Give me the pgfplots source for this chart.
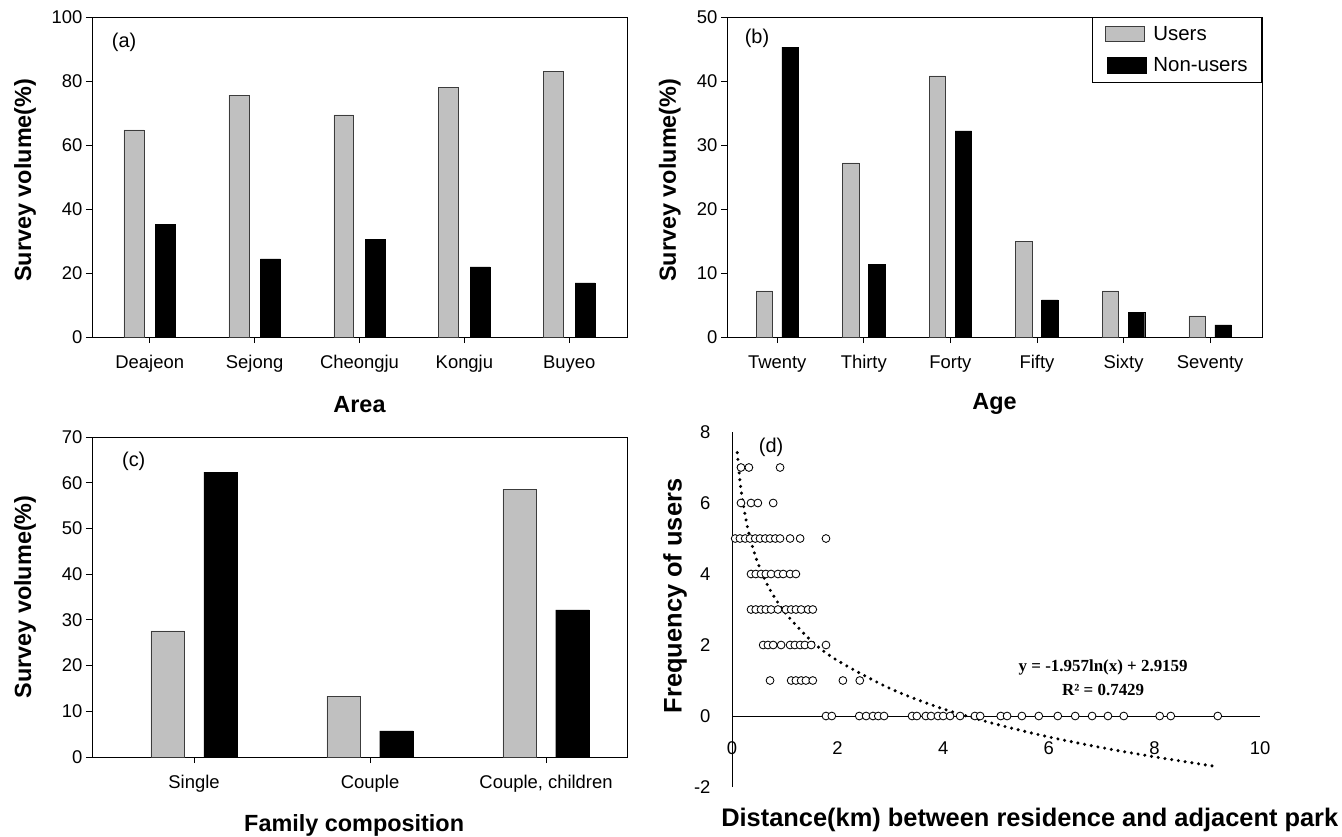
\documentclass[border=0pt]{standalone}
\usepackage{fontspec}
\setmainfont{Liberation Sans}
\newfontfamily\serifbf{Liberation Serif}
\usepackage{pgfplots}
\pgfplotsset{compat=1.18}
\definecolor{ugray}{RGB}{192,192,192}
\definecolor{uedge}{RGB}{60,60,60}

\tikzset{panlab/.style={font=\fontsize{20}{24}\selectfont}}
\pgfplotsset{
  barax/.style={scale only axis, width=535bp, height=320bp, anchor=south west,
    axis line style={line width=0.8pt, black},
    tick style={black, line width=0.8pt},
    tick label style={font=\fontsize{18.5}{21}\selectfont},
    xticklabel style={text height=1.6ex, text depth=0.5ex, yshift=-14bp},
    /pgf/number format/assume math mode=true,
    ytick pos=left, xtick pos=bottom, tick align=outside, major tick length=6bp,
    label style={font=\fontsize{23.5}{27}\selectfont\bfseries},
    ymin=0, clip=false,
  },
  users/.style={ybar, bar width=0.19, bar shift=-0.15, fill=ugray, draw=uedge, line width=0.6pt,
    legend image code/.code={\draw[fill=ugray, draw=uedge, line width=0.8pt] (0bp,-7bp) rectangle (39bp,8bp); \path (46bp,0bp);}},
  nonusers/.style={ybar, bar width=0.19, bar shift=0.15, fill=black, draw=black,
    legend image code/.code={\draw[fill=black, draw=black] (2bp,-8bp) rectangle (41bp,8bp); \path (46bp,0bp);}},
}

\pgfplotstableread{
x users non
0 64.7 35.3
1 75.6 24.4
2 69.4 30.6
3 78.1 21.9
4 83.1 16.9
}\areadata

\pgfplotstableread{
x users non
0 7.2 45.3
1 27.2 11.3
2 40.8 32.2
3 15.0 5.8
4 7.2 3.9
5 3.3 1.9
}\agedata

\pgfplotstableread{
x users non
0 27.6 62.3
1 13.3 5.7
2 58.6 32.2
}\famdata

\pgfplotstableread{
x y
0.17 7
0.32 7
0.91 7
0.17 6
0.36 6
0.49 6
0.78 6
0.06 5
0.15 5
0.25 5
0.34 5
0.44 5
0.53 5
0.63 5
0.72 5
0.82 5
0.91 5
1.10 5
1.29 5
1.78 5
0.36 4
0.45 4
0.55 4
0.64 4
0.74 4
0.87 4
0.97 4
1.10 4
1.21 4
0.36 3
0.45 3
0.55 3
0.64 3
0.74 3
0.87 3
1.02 3
1.12 3
1.21 3
1.31 3
1.44 3
1.53 3
0.59 2
0.68 2
0.78 2
0.93 2
1.10 2
1.19 2
1.29 2
1.38 2
1.50 2
1.78 2
0.72 1
1.12 1
1.21 1
1.31 1
1.40 1
1.53 1
2.10 1
2.42 1
1.78 0
1.89 0
2.41 0
2.54 0
2.67 0
2.77 0
2.88 0
3.41 0
3.50 0
3.67 0
3.77 0
3.90 0
4.00 0
4.13 0
4.32 0
4.60 0
4.70 0
5.09 0
5.21 0
5.49 0
5.81 0
6.17 0
6.50 0
6.82 0
7.12 0
7.42 0
8.10 0
8.31 0
9.20 0
}\distdata

\pgfplotstableread{
x y
0.10 7.42
0.15 6.63
0.20 6.07
0.30 5.27
0.40 4.71
0.50 4.27
0.70 3.61
1.00 2.92
1.50 2.12
2.00 1.56
3.00 0.77
4.00 0.20
5.00 -0.23
6.00 -0.59
7.00 -0.89
8.00 -1.15
9.20 -1.43
}\trenddata

\begin{document}
\begin{tikzpicture}
\useasboundingbox (0,0) rectangle (1342bp,-837bp);

% (a)
\begin{axis}[barax, at={(92bp,-337bp)},
  xmin=-0.55, xmax=4.55, ymax=100, ytick={0,20,...,100},
  xtick={0,...,4}, xticklabels={Deajeon,Sejong,Cheongju,Kongju,Buyeo},
  xlabel={Area}, ylabel={Survey volume(\%)},
  xlabel style={at={(axis description cs:0.5,-0.21)}, anchor=center},
  ylabel style={at={(axis description cs:-0.125,0.49)}, anchor=center},
]
\addplot[users] table[x=x,y=users]{\areadata};
\addplot[nonusers] table[x=x,y=non]{\areadata};
\node[panlab] at (axis description cs:0.06,0.92) {(a)};
\end{axis}

% (b)
\begin{axis}[barax, at={(727bp,-337bp)},
  xmin=-0.58, xmax=5.6, ymax=50, ytick={0,10,...,50},
  xtick={0,...,5}, xticklabels={Twenty,Thirty,Forty,Fifty,Sixty,Seventy},
  xlabel={Age}, ylabel={Survey volume(\%)},
  xlabel style={at={(axis description cs:0.5,-0.21)}, anchor=center},
  ylabel style={at={(axis description cs:-0.107,0.49)}, anchor=center},
  legend style={at={(1,1)}, anchor=north east, draw=black, line width=0.8pt,
    font=\fontsize{20.5}{24}\selectfont, legend cell align=left,
    row sep=12bp, inner xsep=12bp, inner ysep=7bp},
]
\addplot[users] table[x=x,y=users]{\agedata};
\addplot[nonusers] table[x=x,y=non]{\agedata};
\legend{Users,Non-users}
\node[panlab] at (axis description cs:0.056,0.934) {(b)};
\end{axis}

% (c)
\begin{axis}[barax, at={(92bp,-757bp)},
  xmin=-0.58, xmax=2.46, ymax=70, ytick={0,10,...,70},
  xtick={0,...,2}, xticklabels={Single,Couple,{Couple, children}},
  xlabel={Family composition}, ylabel={Survey volume(\%)},
  xlabel style={at={(axis description cs:0.49,-0.2125)}, anchor=center},
  ylabel style={at={(axis description cs:-0.125,0.5)}, anchor=center},
]
\addplot[users] table[x=x,y=users]{\famdata};
\addplot[nonusers] table[x=x,y=non]{\famdata};
\node[panlab] at (axis description cs:0.078,0.925) {(c)};
\end{axis}

% (d)
\begin{axis}[at={(732bp,-787bp)}, anchor=south west, scale only axis,
  width=528bp, height=355bp, xmin=0, xmax=10, ymin=-2, ymax=8,
  axis y line=left, axis x line=middle,
  axis line style={-, line width=0.8pt, black},
  hide obscured x ticks=false, hide obscured y ticks=false,
  major tick length=0pt,
  xtick={0,2,...,10}, ytick={-2,0,...,8},
  tick label style={font=\fontsize{18.5}{21}\selectfont},
  /pgf/number format/assume math mode=true,
  xticklabel style={yshift=-22bp},
  yticklabel style={xshift=-18bp},
  label style={font=\fontsize{25.5}{29}\selectfont\bfseries},
  xlabel={Distance(km) between residence and adjacent park},
  ylabel={Frequency of users},
  xlabel style={at={(axis description cs:0.564,-0.093)}, anchor=center},
  ylabel style={at={(axis description cs:-0.108,0.538)}, anchor=center},
  clip=false,
]
\addplot[only marks, mark=*, mark size=3.9bp, mark options={fill=white, draw=black, line width=0.85pt}] table[x=x,y=y]{\distdata};
\addplot[smooth, black, line width=3.4bp, line cap=round, dash pattern=on 0bp off 6.8bp] table[x=x,y=y]{\trenddata};
\node[font=\serifbf\bfseries\fontsize{17}{20}\selectfont] at (axis cs:7.03,1.38) {y = -1.957ln(x) + 2.9159};
\node[font=\serifbf\bfseries\fontsize{17}{20}\selectfont] at (axis cs:7.03,0.73) {R² = 0.7429};
\node[panlab] at (axis cs:0.74,7.58) {(d)};
\end{axis}
\end{tikzpicture}
\end{document}
